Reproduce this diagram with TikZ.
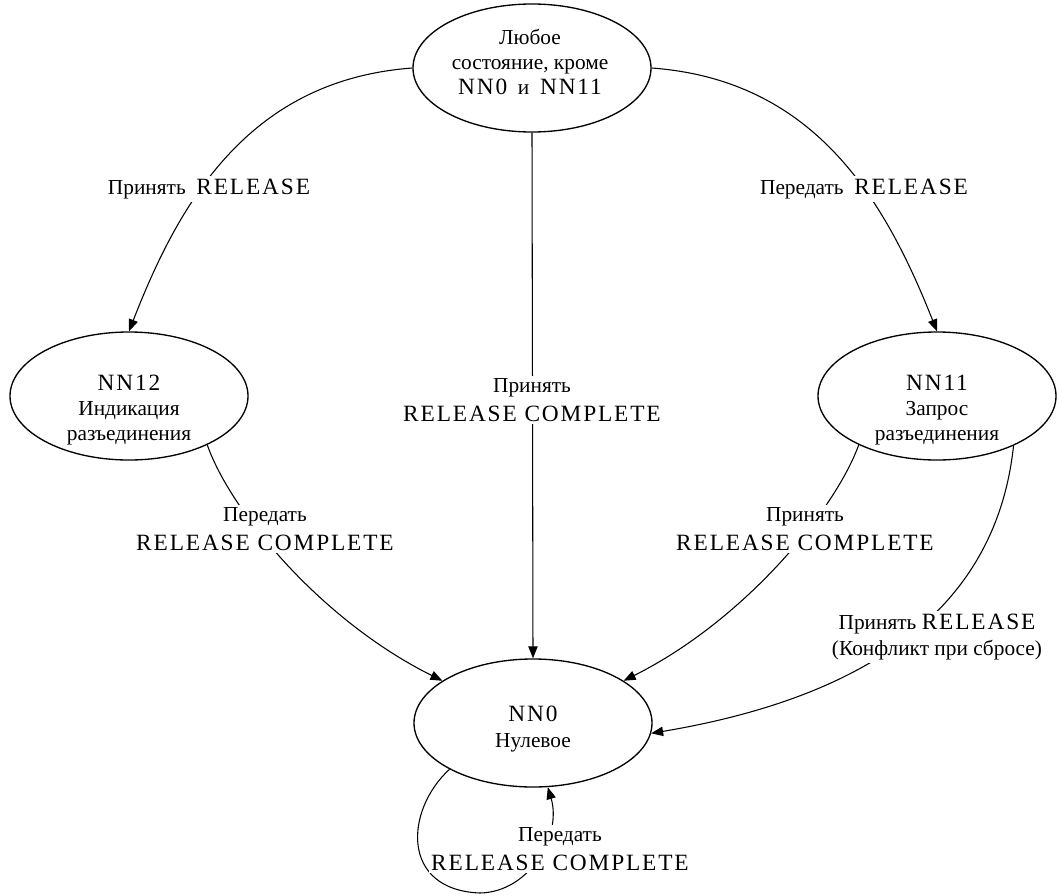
\documentclass[tikz,border=0pt]{standalone}
\usepackage{fontspec}
\setmainfont{Liberation Serif}
\newfontfamily\latfont[LetterSpace=8]{Liberation Serif}
\usetikzlibrary{arrows.meta,shapes.geometric}
\newcommand{\lat}[1]{{\latfont\fontsize{17.5}{22}\selectfont #1}}
\begin{document}
\begin{tikzpicture}[x=0.75pt,y=-0.75pt,
  state/.style={ellipse,draw,line width=1pt,minimum width=178.5pt,minimum height=96pt,inner sep=0pt},
  txt/.style={align=center,font=\fontsize{16}{19}\selectfont,inner sep=1pt},
  lbl/.style={align=center,font=\fontsize{16}{22}\selectfont,fill=white,inner sep=2pt},
  conn/.style={line width=0.8pt,-{Triangle[length=9pt,width=7pt]}}]
\useasboundingbox (0,0) rectangle (1057,896);

\node[state] (any) at (532,68) {};
\node[txt] (anyt) at (530,62) {Любое\\состояние, кроме\\\lat{NN0}\enspace и\enspace\lat{NN11}};
\node[state] (nn12) at (129,396) {};
\node[txt] (nn12t) at (129,410) {\lat{NN12}\\Индикация\\разъединения};
\node[state] (nn11) at (937,396) {};
\node[txt] (nn11t) at (937,410) {\lat{NN11}\\Запрос\\разъединения};
\node[state] (nn0) at (533,723) {};
\node[txt] (nn0t) at (533,729) {\lat{NN0}\\Нулевое};

\draw[conn] (any.west) .. controls (250,80) and (180,200) .. (nn12.north);
\draw[conn] (any.east) .. controls (815,80) and (885,200) .. (nn11.north);
\draw[conn] (any.south) -- (nn0.north);
\draw[conn] (nn12.-32) .. controls (230,510) and (320,620) .. (nn0.155);
\draw[conn] (nn11.212) .. controls (835,510) and (745,620) .. (nn0.25);
\draw[conn] (nn11.-33) .. controls (995,620) and (850,700) .. (nn0.-5);
\draw[conn] (nn0.209) .. controls (405,810) and (400,890) .. (480,893) .. controls (530,892) and (562,835) .. (nn0.283);

\node[lbl] (l1) at (209,189) {Принять\enspace\lat{RELEASE}};
\node[lbl] (l2) at (864,189) {Передать\enspace\lat{RELEASE}};
\node[lbl] (l3) at (532,400) {Принять\\\lat{RELEASE COMPLETE}};
\node[lbl] (l4) at (265,529) {Передать\\\lat{RELEASE COMPLETE}};
\node[lbl] (l5) at (805,529) {Принять\\\lat{RELEASE COMPLETE}};
\node[lbl,font=\fontsize{16}{19.5}\selectfont] (l6) at (937,637) {Принять \lat{RELEASE}\\(Конфликт при сбросе)};
\node[lbl] (l7) at (560,849) {Передать\\\lat{RELEASE COMPLETE}};
\end{tikzpicture}
\end{document}
